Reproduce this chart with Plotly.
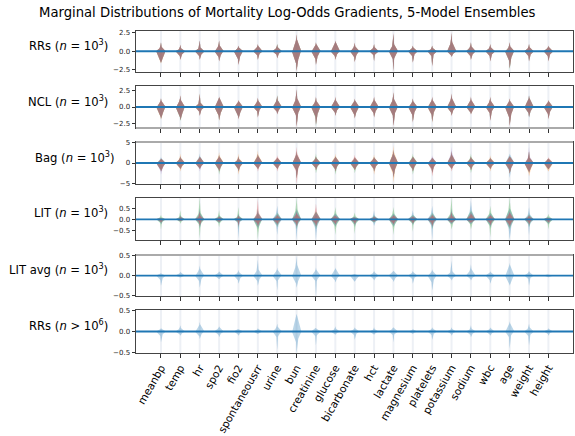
import numpy as np
import plotly.graph_objects as go
from plotly.subplots import make_subplots

# ---------------- data ----------------
features = ["meanbp", "temp", "hr", "spo2", "fio2", "spontaneousrr", "urine", "bun",
            "creatinine", "glucose", "bicarbonate", "hct", "lactate", "magnesium",
            "platelets", "potassium", "sodium", "wbc", "age", "weight", "height"]
positions = list(range(1, len(features) + 1))

model_colors = ["#1f77b4", "#ff7f0e", "#2ca02c", "#d62728", "#9467bd"]

panel_labels = ["RRs (<i>n</i> = 10<sup>3</sup>)", "NCL (<i>n</i> = 10<sup>3</sup>)",
                "Bag (<i>n</i> = 10<sup>3</sup>)", "LIT (<i>n</i> = 10<sup>3</sup>)",
                "LIT avg (<i>n</i> = 10<sup>3</sup>)", "RRs (<i>n</i> &gt; 10<sup>6</sup>)"]
n_models = [5, 5, 5, 5, 1, 1]
y_ranges = [[-2.78, 2.78], [-3.15, 3.15], [-5.15, 5.15], [-0.92, 0.95], [-0.505, 0.51], [-0.52, 0.52]]
y_tickvals = [[-2.5, 0, 2.5], [-2.5, 0, 2.5], [-5, 0, 5], [-0.5, 0, 0.5], [-0.5, 0, 0.5], [-0.5, 0, 0.5]]
y_ticktext = [["−2.5", "0.0", "2.5"], ["−2.5", "0.0", "2.5"], ["−5", "0", "5"],
              ["−0.5", "0.0", "0.5"], ["−0.5", "0.0", "0.5"], ["−0.5", "0.0", "0.5"]]
# panel edges that show a light grey band in the reference (panel index, side)
grey_edges = [(1, "bottom"), (2, "top"), (4, "top")]

# RRs (n=10^3)
rr_up_tail = [1.25, 0.9, 1.55, 1.5, 0.8, 1.0, 1.0, 2.4, 1.25, 1.5, 1.2, 1.0, 2.5, 0.8, 0.8, 2.6, 1.25, 1.0, 1.25, 1.0, 0.8]
rr_up_body = [0.45, 0.3, 0.4, 0.6, 0.35, 0.5, 0.4, 1.2, 0.7, 0.9, 0.5, 0.4, 0.7, 0.35, 0.3, 1.0, 0.5, 0.4, 0.5, 0.4, 0.4]
rr_dn_body = [1.2, 0.5, 0.5, 0.6, 0.8, 0.4, 0.35, 1.3, 0.8, 0.5, 0.6, 0.4, 0.8, 0.5, 0.5, 0.4, 0.5, 0.5, 1.0, 0.5, 0.5]
rr_dn_tail = [1.65, 1.2, 1.2, 1.4, 1.9, 1.2, 1.0, 2.8, 1.9, 1.2, 1.5, 1.4, 2.8, 1.6, 2.1, 0.8, 1.2, 1.4, 2.5, 1.4, 1.4]
rr_dom_up = [3, 3, 4, 3, 3, 3, 2, 3, 3, 3, 3, 3, 3, 3, 3, 3, 3, 3, 3, 3, 3]
rr_dom_dn = [1, 3, 3, 3, 3, 3, 3, 3, 3, 1, 3, 3, 3, 3, 3, 3, 3, 3, 2, 3, 3]
rr_model_body = [0.95, 0.95, 0.95, 0.95, 0.95]
rr_model_tail = [0.93, 0.93, 0.93, 0.93, 0.93]

# NCL (n=10^3)
ncl_up_tail = [1.4, 1.85, 2.1, 1.6, 1.1, 1.45, 1.85, 2.85, 1.6, 1.6, 1.3, 1.6, 2.35, 1.35, 1.6, 2.1, 1.6, 1.6, 1.35, 1.85, 1.1]
ncl_up_body = [0.7, 0.8, 0.5, 1.0, 0.6, 0.7, 0.8, 1.0, 0.7, 0.8, 0.7, 0.8, 0.9, 0.6, 0.8, 1.0, 0.8, 0.7, 0.7, 1.0, 0.6]
ncl_dn_body = [1.1, 1.2, 0.5, 1.0, 1.0, 0.5, 0.5, 1.0, 1.2, 0.6, 0.9, 0.7, 1.0, 0.9, 0.9, 0.6, 0.6, 0.7, 1.2, 0.7, 0.8]
ncl_dn_tail = [1.9, 2.15, 1.4, 2.15, 1.9, 1.65, 1.15, 3.15, 2.9, 1.4, 1.8, 1.65, 3.0, 2.4, 2.4, 1.4, 1.15, 2.15, 3.0, 1.65, 1.9]
ncl_dom_up = [3, 3, 1, 3, 3, 3, 2, 3, 3, 3, 3, 3, 3, 3, 3, 3, 3, 3, 3, 0, 3]
ncl_dom_dn = [1, 2, 3, 1, 3, 3, 3, 3, 2, 3, 3, 3, 3, 3, 1, 3, 3, 3, 3, 0, 3]
ncl_model_body = [0.95, 0.95, 0.95, 0.95, 0.95]
ncl_model_tail = [0.92, 0.92, 0.92, 0.92, 0.92]

# Bag (n=10^3)
bag_up_tail = [1.5, 2.3, 2.3, 2.7, 2.3, 3.1, 1.9, 4.0, 2.3, 2.3, 2.0, 2.1, 4.4, 2.3, 1.9, 4.0, 2.3, 1.9, 2.3, 4.0, 1.5]
bag_up_body = [0.8, 1.0, 1.2, 1.3, 0.8, 1.5, 1.0, 1.8, 1.0, 1.2, 1.0, 1.0, 2.0, 1.2, 1.0, 1.8, 1.0, 0.9, 1.5, 1.2, 0.8]
bag_dn_body = [1.5, 1.0, 1.0, 1.3, 1.2, 1.0, 1.0, 1.6, 1.0, 1.2, 1.2, 1.2, 2.0, 1.2, 1.3, 1.0, 1.0, 1.0, 1.5, 1.8, 1.5]
bag_dn_tail = [2.9, 2.1, 2.1, 2.9, 2.9, 2.1, 2.1, 5.3, 2.5, 2.9, 2.5, 2.9, 4.9, 2.9, 3.3, 2.1, 2.5, 2.1, 3.7, 3.3, 2.1]
bag_dom_up = [0, 1, 0, 1, 1, 1, 3, 3, 2, 1, 3, 1, 1, 2, 4, 4, 2, 1, 0, 4, 3]
bag_dom_dn = [4, 1, 4, 2, 1, 3, 3, 3, 2, 2, 2, 1, 1, 2, 3, 3, 2, 1, 0, 1, 1]
bag_model_body = [0.8, 0.8, 0.8, 0.8, 0.8]
bag_model_tail = [0.72, 0.72, 0.72, 0.72, 0.72]

# LIT (n=10^3)
lit_up_tail = [0.2, 0.4, 1.0, 0.4, 0.55, 0.92, 0.6, 1.0, 0.7, 0.55, 0.3, 0.4, 0.55, 0.4, 0.6, 1.0, 0.85, 0.6, 1.0, 0.55, 0.25]
lit_up_body = [0.1, 0.08, 0.2, 0.1, 0.1, 0.2, 0.2, 0.3, 0.25, 0.25, 0.12, 0.1, 0.2, 0.15, 0.2, 0.2, 0.3, 0.2, 0.35, 0.15, 0.1]
lit_dn_body = [0.1, 0.1, 0.15, 0.1, 0.1, 0.25, 0.2, 0.2, 0.25, 0.2, 0.15, 0.1, 0.2, 0.12, 0.2, 0.2, 0.2, 0.2, 0.3, 0.15, 0.12]
lit_dn_tail = [0.45, 0.2, 0.85, 0.35, 0.85, 0.9, 0.7, 0.9, 0.9, 0.7, 0.65, 0.3, 0.7, 0.55, 0.9, 0.45, 0.45, 0.8, 0.9, 0.7, 0.45]
lit_dom_up = [2, 2, 2, 2, 2, 3, 0, 2, 3, 2, 2, 0, 2, 0, 0, 2, 0, 2, 2, 0, 2]
lit_dom_dn = [2, 2, 2, 2, 0, 2, 0, 0, 0, 2, 2, 0, 2, 2, 0, 2, 2, 2, 0, 0, 2]
lit_model_body = [1.0, 0.45, 0.9, 0.55, 0.7]
lit_model_tail = [0.5, 0.3, 0.5, 0.35, 0.4]

# LIT avg (n=10^3)
litavg_up_tail = [0.07, 0.1, 0.25, 0.11, 0.14, 0.4, 0.2, 0.48, 0.2, 0.2, 0.05, 0.12, 0.12, 0.12, 0.16, 0.37, 0.28, 0.11, 0.32, 0.12, 0.04]
litavg_up_body = [0.04, 0.05, 0.12, 0.06, 0.06, 0.12, 0.1, 0.2, 0.1, 0.12, 0.03, 0.06, 0.08, 0.06, 0.08, 0.08, 0.12, 0.06, 0.2, 0.06, 0.03]
litavg_dn_body = [0.08, 0.04, 0.1, 0.05, 0.08, 0.1, 0.1, 0.15, 0.1, 0.08, 0.1, 0.06, 0.08, 0.06, 0.12, 0.06, 0.06, 0.08, 0.15, 0.06, 0.03]
litavg_dn_tail = [0.25, 0.05, 0.3, 0.09, 0.2, 0.25, 0.37, 0.3, 0.5, 0.17, 0.15, 0.12, 0.16, 0.2, 0.37, 0.12, 0.12, 0.2, 0.25, 0.25, 0.04]

# RRs (n>10^6)
rrbig_up_tail = [0.08, 0.15, 0.23, 0.13, 0.07, 0.08, 0.19, 0.43, 0.1, 0.13, 0.1, 0.1, 0.1, 0.06, 0.1, 0.1, 0.15, 0.1, 0.25, 0.19, 0.08]
rrbig_up_body = [0.05, 0.06, 0.12, 0.07, 0.05, 0.04, 0.08, 0.3, 0.07, 0.05, 0.05, 0.04, 0.06, 0.03, 0.05, 0.04, 0.05, 0.05, 0.15, 0.07, 0.04]
rrbig_dn_body = [0.08, 0.05, 0.08, 0.06, 0.05, 0.04, 0.1, 0.2, 0.08, 0.04, 0.06, 0.04, 0.06, 0.03, 0.06, 0.04, 0.06, 0.05, 0.1, 0.08, 0.04]
rrbig_dn_tail = [0.26, 0.1, 0.18, 0.14, 0.1, 0.06, 0.44, 0.52, 0.34, 0.08, 0.2, 0.08, 0.26, 0.06, 0.2, 0.1, 0.14, 0.1, 0.42, 0.34, 0.1]

# ---------------- assemble panels ----------------
single = [0] * len(features)
ones = [1.0]
# (up tail, up body, down body, down tail, dominant-up model, dominant-down model,
#  body factor of other models, tail factor of other models, dominant body stretch)
panels = [
    (rr_up_tail, rr_up_body, rr_dn_body, rr_dn_tail, rr_dom_up, rr_dom_dn, rr_model_body, rr_model_tail, 1.0),
    (ncl_up_tail, ncl_up_body, ncl_dn_body, ncl_dn_tail, ncl_dom_up, ncl_dom_dn, ncl_model_body, ncl_model_tail, 1.0),
    (bag_up_tail, bag_up_body, bag_dn_body, bag_dn_tail, bag_dom_up, bag_dom_dn, bag_model_body, bag_model_tail, 1.0),
    (lit_up_tail, lit_up_body, lit_dn_body, lit_dn_tail, lit_dom_up, lit_dom_dn, lit_model_body, lit_model_tail, 2.2),
    (litavg_up_tail, litavg_up_body, litavg_dn_body, litavg_dn_tail, single, single, ones, ones, 1.0),
    (rrbig_up_tail, rrbig_up_body, rrbig_dn_body, rrbig_dn_tail, single, single, ones, ones, 1.0),
]

HALF_W = 0.25      # matplotlib violin width 0.5
SPIKE_W = 0.05
BODY_EXT = 1.45    # visible body edge -> zero-width point of the profile


def half_profile(tail, body, stretch=1.0):
    body = min(body * BODY_EXT * stretch, max(tail, 1e-6))
    tail = max(tail, body)
    ys = np.concatenate([np.linspace(0, body, 16), np.linspace(body, tail, 10)[1:]])
    t = np.clip(ys / body, 0, 1)
    exponent = 1.15 * stretch
    wb = HALF_W * (1 - t) ** exponent
    ws = SPIKE_W * np.clip(1 - ys / tail, 0, None) ** 0.7
    return ys, np.maximum(wb, ws)


def violin_poly(x0, up_tail, up_body, dn_body, dn_tail, s_up=1.0, s_dn=1.0):
    yu, wu = half_profile(up_tail, up_body, s_up)
    yd, wd = half_profile(dn_tail, dn_body, s_dn)
    ry = np.concatenate([-yd[::-1], yu[1:]])
    rw = np.concatenate([wd[::-1], wu[1:]])
    px = np.concatenate([x0 + rw, x0 - rw[::-1]])
    py = np.concatenate([ry, ry[::-1]])
    return list(px) + [None], list(py) + [None]


fig = make_subplots(rows=6, cols=1)

# axis geometry (pixels of the 575x436 canvas)
W, H = 575, 436
x_dom = [136 / W, 573 / W]
panel_px = [(30.5, 72), (86, 128), (142, 184), (198, 240), (255, 296), (310, 353)]

for pi, (ut, ub, db, dt, dom_u, dom_d, mbody, mtail, stretch) in enumerate(panels):
    row = pi + 1
    # faint centre bars
    bx, by = [], []
    for p in positions:
        bx += [p, p, None]
        by += [y_ranges[pi][0], y_ranges[pi][1], None]
    fig.add_trace(go.Scatter(x=bx, y=by, mode="lines",
                             line=dict(color="rgba(140,160,190,0.16)", width=2),
                             hoverinfo="skip", showlegend=False), row=row, col=1)
    for m in range(n_models[pi]):
        xs, ys = [], []
        for i, p in enumerate(positions):
            du, dd = dom_u[i] == m, dom_d[i] == m
            su = 1.0 if du else mtail[m]
            sd = 1.0 if dd else mtail[m]
            bu = 1.0 if du else mbody[m]
            bd = 1.0 if dd else mbody[m]
            px, py = violin_poly(p, ut[i] * su, ub[i] * bu, db[i] * bd, dt[i] * sd,
                                 stretch if du else 1.0, stretch if dd else 1.0)
            xs += px
            ys += py
        fig.add_trace(go.Scatter(x=xs, y=ys, mode="lines", fill="toself",
                                 fillcolor=model_colors[m], opacity=0.3,
                                 line=dict(width=0, color=model_colors[m]),
                                 hoverinfo="skip", showlegend=False), row=row, col=1)
    fig.add_hline(y=0, line_color="#1f77b4", line_width=1.8, row=row, col=1)

    top, bot = panel_px[pi]
    ax_suffix = "" if row == 1 else str(row)
    fig.layout["xaxis" + ax_suffix].update(
        domain=x_dom, range=[-0.29, 22.27], tickmode="array", tickvals=positions,
        ticktext=features, showticklabels=(row == 6), tickangle=-60, automargin=False,
        tickfont=dict(family="DejaVu Sans", size=10.6, color="#000"),
        ticks="outside", ticklen=3.5, tickwidth=0.8, tickcolor="#333",
        showline=True, mirror=True, linecolor="#444", linewidth=1,
        showgrid=False, zeroline=False)
    fig.layout["yaxis" + ax_suffix].update(
        domain=[1 - bot / H, 1 - top / H], range=y_ranges[pi], tickmode="array",
        tickvals=y_tickvals[pi], ticktext=y_ticktext[pi], automargin=False,
        tickfont=dict(family="DejaVu Sans", size=7, color="#222"),
        ticks="outside", ticklen=3.5, tickwidth=0.8, tickcolor="#333",
        showline=True, mirror=True, linecolor="#444", linewidth=1,
        showgrid=False, zeroline=False)

    label_x = (117 if pi == 2 else 110) / W
    label_y = 1 - ((top + bot) / 2 - 6.5) / H
    fig.add_annotation(text=panel_labels[pi], xref="paper", yref="paper",
                       x=label_x, y=label_y, xanchor="right", yanchor="middle",
                       showarrow=False,
                       font=dict(family="DejaVu Sans", size=11.6, color="#000"))

for pi, side in grey_edges:
    row = pi + 1
    ax_suffix = "" if row == 1 else str(row)
    yv = 1 if side == "top" else 0
    fig.add_shape(type="line", xref="x" + ax_suffix + " domain", yref="y" + ax_suffix + " domain",
                  x0=0, x1=1, y0=yv, y1=yv, layer="above",
                  line=dict(color="rgba(170,170,170,1)", width=2.2))

fig.add_annotation(text="Marginal Distributions of Mortality Log-Odds Gradients, 5-Model Ensembles",
                   xref="paper", yref="paper", x=0.5, y=1 - 13 / H,
                   xanchor="center", yanchor="middle", showarrow=False,
                   font=dict(family="DejaVu Sans", size=13.2, color="#000"))

fig.update_layout(width=W, height=H, margin=dict(l=0, r=0, t=0, b=0, autoexpand=False),
                  paper_bgcolor="white", plot_bgcolor="white", showlegend=False,
                  font=dict(family="DejaVu Sans"))

fig.write_html("out.html", config={"displayModeBar": False},
               post_script="document.body.style.margin='0';document.body.style.overflow='hidden';")
